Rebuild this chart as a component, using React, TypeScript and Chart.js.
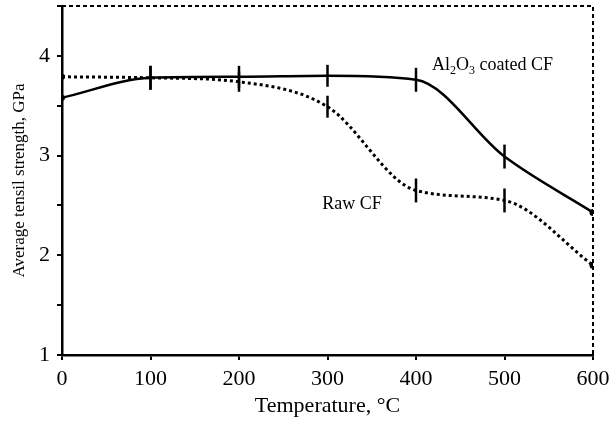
import React, { useEffect, useRef } from 'react';
import { Chart, registerables } from 'chart.js';

Chart.register(...registerables);

const temperatures = [0, 100, 200, 300, 400, 500, 600];
const coatedStrength = [3.58, 3.78, 3.79, 3.8, 3.76, 2.99, 2.43];
const rawStrength = [3.79, 3.78, 3.74, 3.49, 2.65, 2.55, 1.9];
const coatedError = [0, 0.12, 0.11, 0.11, 0.12, 0.12, 0];
const rawError = [0, 0.12, 0.1, 0.11, 0.12, 0.12, 0];
const endPointRadius = [3, 0, 0, 0, 0, 0, 3.5];

const xTitle = 'Temperature, °C';
const yTitle = 'Average tensil strength, GPa';
const coatedLabelParts = [
  { t: 'Al', sub: false },
  { t: '2', sub: true },
  { t: 'O', sub: false },
  { t: '3', sub: true },
  { t: ' coated CF', sub: false },
];
const coatedLabelAt = { x: 418, y: 3.92 };
const rawLabel = 'Raw CF';
const rawLabelAt = { x: 294, y: 2.52 };

const FONT = '"Liberation Serif", "Times New Roman", serif';

const overlayPlugin = {
  id: 'overlay',
  afterDatasetsDraw(chart: any) {
    const { ctx, chartArea, scales } = chart;
    const xs = scales.x;
    const ys = scales.y;
    ctx.save();
    // dashed top/right frame
    ctx.strokeStyle = '#000';
    ctx.lineWidth = 2;
    ctx.setLineDash([4, 3]);
    ctx.beginPath();
    ctx.moveTo(chartArea.left, chartArea.top);
    ctx.lineTo(chartArea.right, chartArea.top);
    ctx.lineTo(chartArea.right, chartArea.bottom);
    ctx.stroke();
    ctx.setLineDash([]);

    // error bars
    const drawBars = (vals: number[], errs: number[]) => {
      ctx.lineWidth = 2.5;
      vals.forEach((v, i) => {
        const e = errs[i];
        if (!e) return;
        const px = xs.getPixelForValue(temperatures[i]);
        ctx.beginPath();
        ctx.moveTo(px, ys.getPixelForValue(v - e));
        ctx.lineTo(px, ys.getPixelForValue(v + e));
        ctx.stroke();
      });
    };
    drawBars(coatedStrength, coatedError);
    drawBars(rawStrength, rawError);

    // annotations
    ctx.fillStyle = '#000';
    ctx.textBaseline = 'alphabetic';
    ctx.textAlign = 'left';
    let cx = xs.getPixelForValue(coatedLabelAt.x);
    const cy = ys.getPixelForValue(coatedLabelAt.y) + 6;
    coatedLabelParts.forEach((p) => {
      ctx.font = p.sub ? `12px ${FONT}` : `18px ${FONT}`;
      ctx.fillText(p.t, cx, p.sub ? cy + 4 : cy);
      cx += ctx.measureText(p.t).width;
    });
    ctx.font = `18px ${FONT}`;
    ctx.fillText(rawLabel, xs.getPixelForValue(rawLabelAt.x), ys.getPixelForValue(rawLabelAt.y) + 6);
    ctx.restore();
  },
};

export default function App() {
  const ref = useRef<HTMLCanvasElement | null>(null);
  useEffect(() => {
    document.body.style.margin = '0';
    const canvas = ref.current!;
    const chart = new Chart(canvas, {
      type: 'line',
      data: {
        datasets: [
          {
            label: 'Al2O3 coated CF',
            data: temperatures.map((t, i) => ({ x: t, y: coatedStrength[i] })),
            borderColor: '#000',
            backgroundColor: '#000',
            borderWidth: 2.5,
            cubicInterpolationMode: 'monotone',
            pointRadius: endPointRadius,
            pointBackgroundColor: '#000',
            pointBorderWidth: 0,
            fill: false,
          },
          {
            label: 'Raw CF',
            data: temperatures.map((t, i) => ({ x: t, y: rawStrength[i] })),
            borderColor: '#000',
            backgroundColor: '#000',
            borderWidth: 3,
            borderDash: [3, 3],
            cubicInterpolationMode: 'monotone',
            pointRadius: endPointRadius,
            pointBackgroundColor: '#000',
            pointBorderWidth: 0,
            fill: false,
          },
        ],
      },
      options: {
        animation: false,
        responsive: false,
        devicePixelRatio: 1,
        layout: { padding: { top: 6, right: 16, left: 0, bottom: 0 } },
        plugins: { legend: { display: false }, tooltip: { enabled: false } },
        scales: {
          x: {
            type: 'linear',
            min: 0,
            max: 600,
            afterFit: (s: any) => { s.height = 67; s.paddingLeft = 0; s.paddingRight = 0; },
            ticks: {
              stepSize: 100,
              color: '#000',
              font: { family: FONT, size: 22 },
              padding: 6,
              maxRotation: 0,
            },
            grid: { drawOnChartArea: false, drawTicks: true, tickLength: 5, color: '#000', lineWidth: 2 },
            border: { color: '#000', width: 2.5 },
            title: {
              display: true,
              text: xTitle,
              color: '#000',
              font: { family: FONT, size: 22 },
              padding: { top: 0, bottom: 3 },
            },
          },
          y: {
            type: 'linear',
            min: 1,
            max: 4.5,
            afterFit: (s: any) => { s.width = 62; s.paddingTop = 0; s.paddingBottom = 0; },
            ticks: {
              stepSize: 0.5,
              color: '#000',
              font: { family: FONT, size: 22 },
              padding: 7,
              callback: (v: any) => (Number.isInteger(v) && v < 4.5 ? String(v) : ''),
            },
            grid: { drawOnChartArea: false, drawTicks: true, tickLength: 5, color: '#000', lineWidth: 2 },
            border: { color: '#000', width: 2.5 },
            title: {
              display: true,
              text: yTitle,
              color: '#000',
              font: { family: FONT, size: 17 },
              padding: { top: 9, bottom: 0 },
            },
          },
        },
      },
      plugins: [overlayPlugin],
    } as any);
    return () => chart.destroy();
  }, []);
  return <canvas ref={ref} width={609} height={422} style={{ display: 'block' }} />;
}
